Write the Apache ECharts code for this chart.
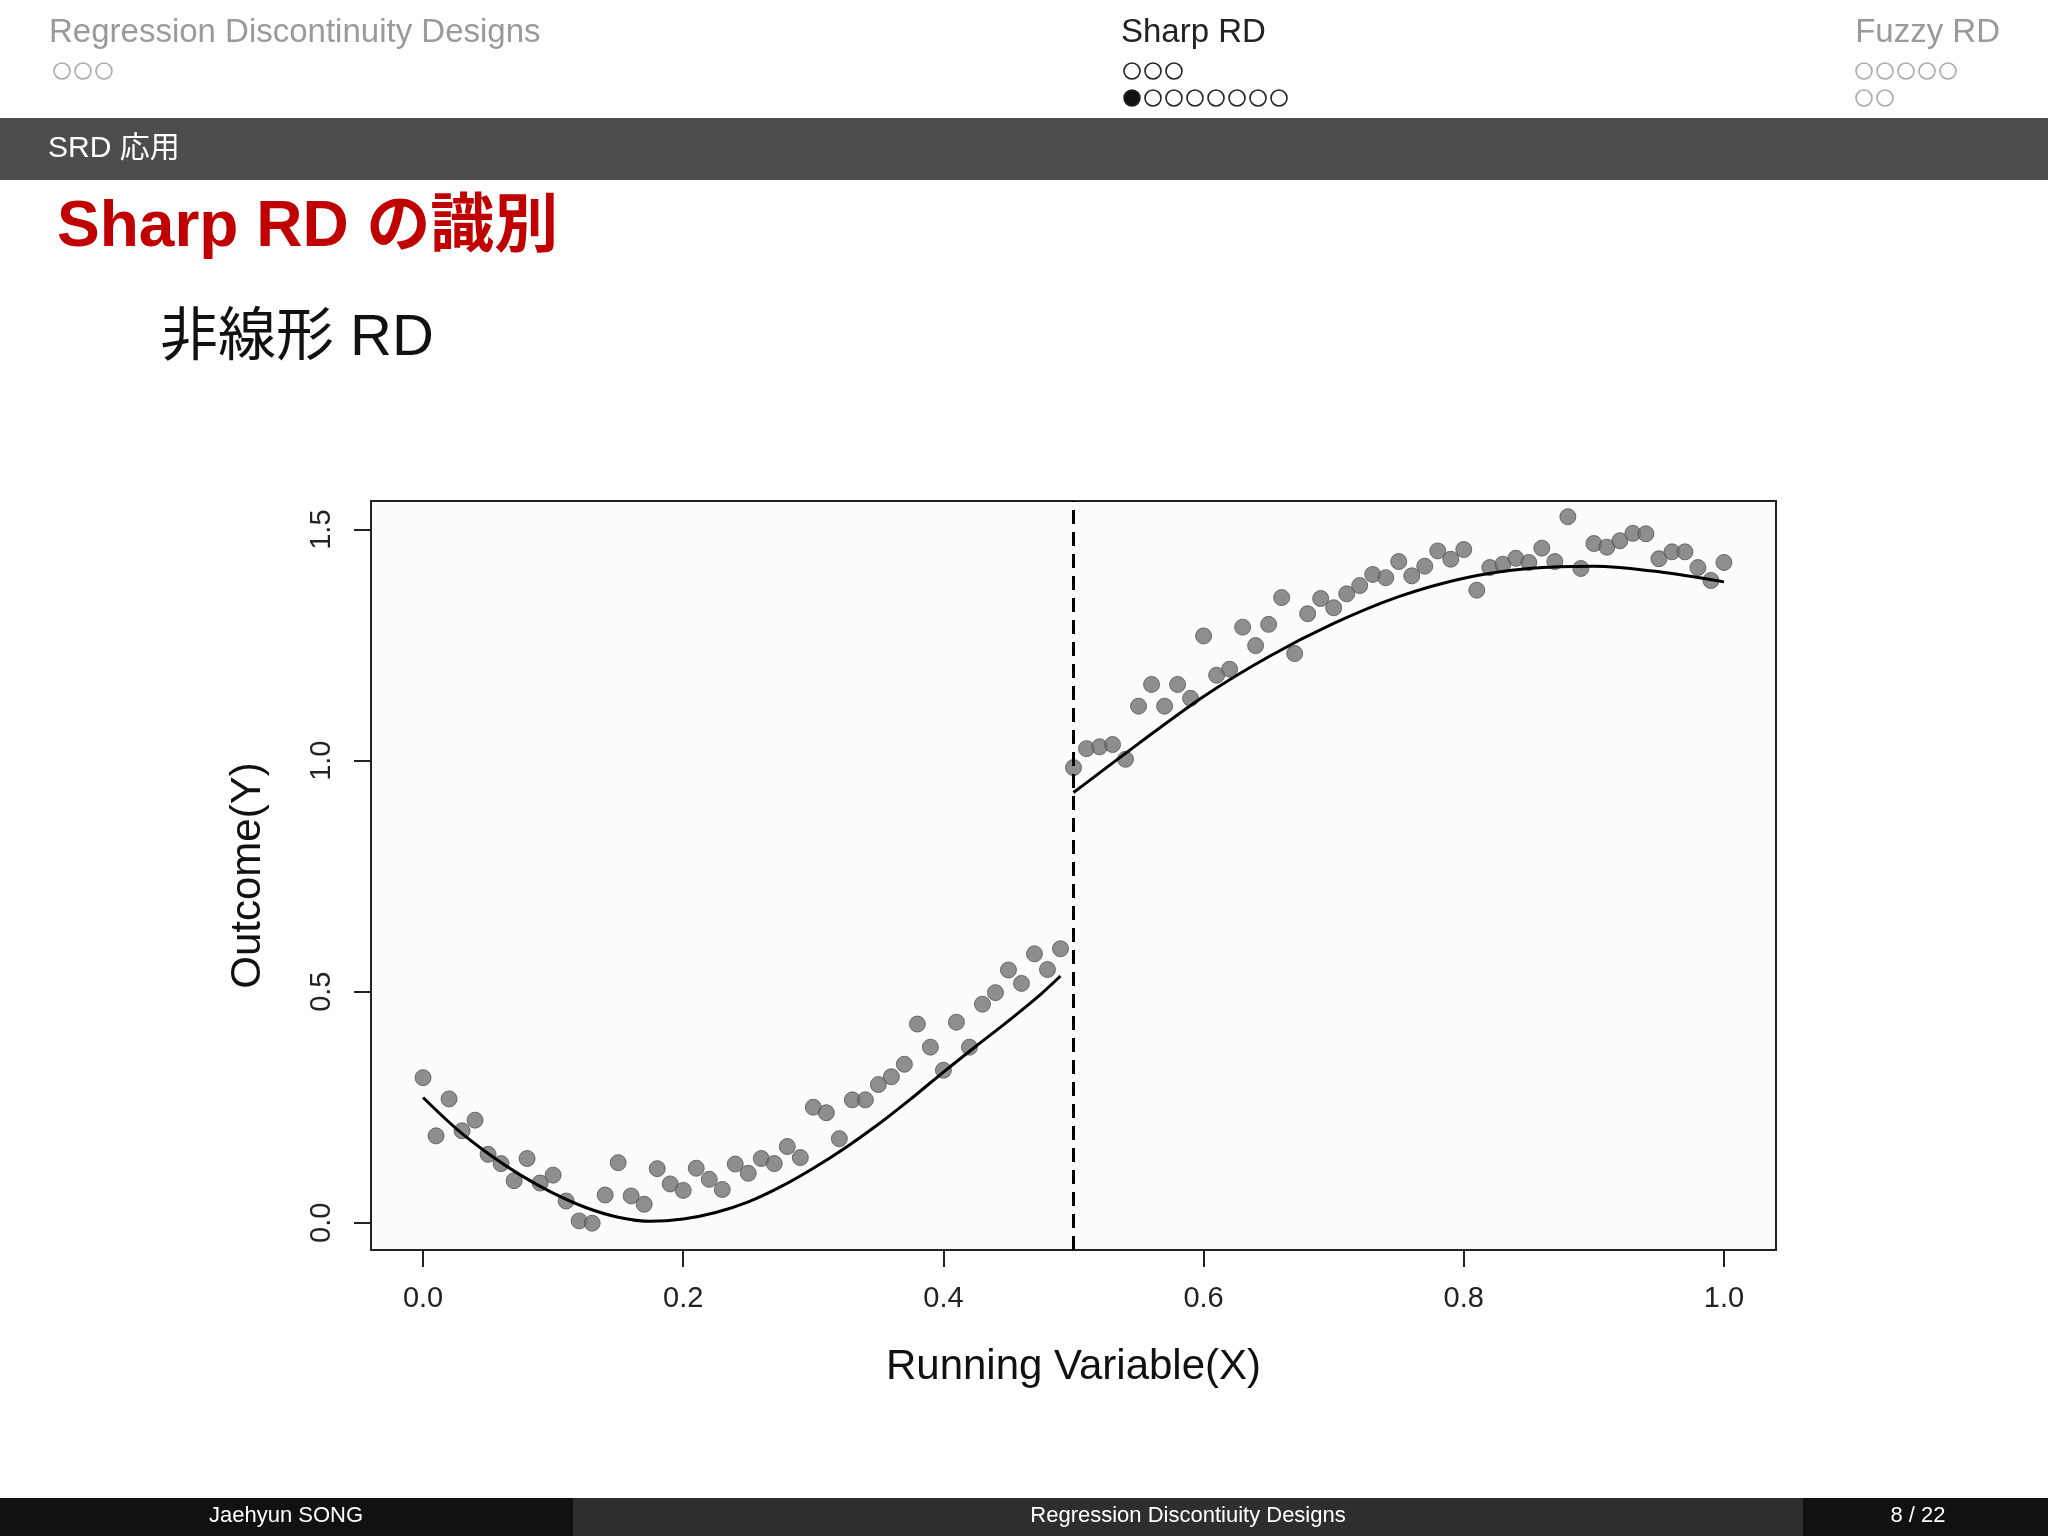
<!DOCTYPE html>
<html lang="ja">
<head>
<meta charset="utf-8">
<script src="https://cdn.jsdelivr.net/npm/echarts@6.0.0/dist/echarts.min.js"></script>
<style>
  html, body { margin: 0; padding: 0; background: #fff; }
  #main { width: 2048px; height: 1536px; }
</style>
</head>
<body>
<div id="main"></div>
<script>
// observed points, x = 0.00 .. 0.49 and 0.50 .. 1.00
var leftX = [0.00,0.01,0.02,0.03,0.04,0.05,0.06,0.07,0.08,0.09,0.10,0.11,0.12,0.13,0.14,0.15,0.16,0.17,0.18,0.19,
             0.20,0.21,0.22,0.23,0.24,0.25,0.26,0.27,0.28,0.29,0.30,0.31,0.32,0.33,0.34,0.35,0.36,0.37,0.38,0.39,
             0.40,0.41,0.42,0.43,0.44,0.45,0.46,0.47,0.48,0.49];
var leftY = [0.314,0.188,0.268,0.199,0.222,0.148,0.128,0.091,0.139,0.086,0.103,0.047,0.004,-0.001,0.060,0.130,0.058,0.040,0.117,0.084,
             0.070,0.118,0.094,0.072,0.127,0.107,0.139,0.128,0.165,0.141,0.250,0.238,0.182,0.266,0.266,0.299,0.316,0.343,0.430,0.380,
             0.330,0.434,0.380,0.473,0.498,0.547,0.518,0.582,0.548,0.593];
var rightX = [0.50,0.51,0.52,0.53,0.54,0.55,0.56,0.57,0.58,0.59,0.60,0.61,0.62,0.63,0.64,0.65,0.66,0.67,0.68,0.69,
              0.70,0.71,0.72,0.73,0.74,0.75,0.76,0.77,0.78,0.79,0.80,0.81,0.82,0.83,0.84,0.85,0.86,0.87,0.88,0.89,
              0.90,0.91,0.92,0.93,0.94,0.95,0.96,0.97,0.98,0.99,1.00];
var rightY = [0.985,1.026,1.030,1.035,1.003,1.118,1.165,1.118,1.165,1.135,1.270,1.185,1.198,1.289,1.249,1.295,1.353,1.232,1.318,1.351,
              1.331,1.361,1.379,1.403,1.396,1.431,1.400,1.421,1.454,1.436,1.457,1.369,1.418,1.425,1.438,1.429,1.460,1.431,1.528,1.416,
              1.470,1.462,1.476,1.492,1.491,1.437,1.452,1.452,1.418,1.390,1.429];

// fitted curves
var fitLeftX = [0,0.025,0.05,0.075,0.1,0.125,0.15,0.175,0.2,0.225,0.25,0.275,0.3,0.325,0.35,0.375,0.4,0.425,0.45,0.475,0.49];
var fitLeftY = [0.271,0.205,0.150,0.103,0.064,0.033,0.012,0.003,0.008,0.022,0.045,0.078,0.118,0.163,0.213,0.268,0.326,0.382,0.437,0.495,0.534];
var fitRightX = [0.5,0.55,0.6,0.65,0.7,0.75,0.8,0.85,0.9,0.95,1.0];
var fitRightY = [0.931,1.037,1.139,1.225,1.297,1.355,1.395,1.416,1.421,1.409,1.387];

var xTicks = [0, 0.2, 0.4, 0.6, 0.8, 1.0];
var yTicks = [0, 0.5, 1.0, 1.5];

function pairs(xs, ys) { return xs.map(function (x, i) { return [x, ys[i]]; }); }

var chart = echarts.init(document.getElementById('main'));
var fam = '"Liberation Sans", "Noto Sans CJK JP", sans-serif';

function txt(x, y, s, size, color, extra) {
    var st = { text: s, x: x, y: y, fontSize: size, fill: color, fontFamily: fam, textVerticalAlign: 'top' };
    for (var k in extra) st[k] = extra[k];
    return { type: 'text', style: st };
}
function dots(x, y, n, filledIdx, stroke) {
    var out = [];
    for (var i = 0; i < n; i++) {
        out.push({ type: 'circle', shape: { cx: x + i * 21, cy: y, r: 8 },
            style: { fill: i === filledIdx ? '#111' : 'none', stroke: stroke, lineWidth: 1.6 } });
    }
    return out;
}

var g = [
    txt(49, 16, 'Regression Discontinuity Designs', 33, '#9a9a9a'),
    txt(1121, 16, 'Sharp RD', 33, '#222'),
    txt(2000, 16, 'Fuzzy RD', 33, '#9a9a9a', { textAlign: 'right' }),
    { type: 'rect', shape: { x: 0, y: 118, width: 2048, height: 62 }, style: { fill: '#4d4d4d' } },
    txt(48, 134, 'SRD 応用', 30, '#fff'),
    txt(57, 196, 'Sharp RD の識別', 64, '#c00000', { fontWeight: 'bold' }),
    txt(160, 310, '非線形 RD', 58, '#111'),
    { type: 'rect', shape: { x: 0, y: 1498, width: 573, height: 38 }, style: { fill: '#111' } },
    { type: 'rect', shape: { x: 573, y: 1498, width: 1230, height: 38 }, style: { fill: '#2e2e2e' } },
    { type: 'rect', shape: { x: 1803, y: 1498, width: 245, height: 38 }, style: { fill: '#111' } },
    txt(286, 1505, 'Jaehyun SONG', 22, '#fff', { textAlign: 'center' }),
    txt(1188, 1505, 'Regression Discontiuity Designs', 22, '#fff', { textAlign: 'center' }),
    txt(1918, 1505, '8 / 22', 22, '#fff', { textAlign: 'center' })
];
g = g.concat(dots(62, 71, 3, -1, '#aaa'), dots(1132, 71, 3, -1, '#222'), dots(1132, 98, 8, 0, '#222'),
             dots(1864, 71, 5, -1, '#aaa'), dots(1864, 98, 2, -1, '#aaa'));

chart.setOption({
    backgroundColor: '#fff',
    animation: false,
    graphic: g,
    grid: { left: 371, right: 272, top: 501, bottom: 286, show: true, backgroundColor: '#fdfcfd', borderColor: '#222', borderWidth: 2 },
    xAxis: {
        type: 'value', min: -0.04, max: 1.04,
        splitLine: { show: false },
        axisLine: { show: false, onZero: false },
        axisTick: { show: true, length: 17, inside: false, lineStyle: { color: '#222', width: 2 }, customValues: xTicks },
        axisLabel: { customValues: xTicks, margin: 34, fontSize: 29, color: '#222', fontFamily: fam,
            formatter: function (v) { return v.toFixed(1); } },
        name: 'Running Variable(X)', nameLocation: 'middle', nameGap: 96,
        nameTextStyle: { fontSize: 42, color: '#111', fontFamily: fam }
    },
    yAxis: {
        type: 'value', min: -0.059, max: 1.562,
        splitLine: { show: false },
        axisLine: { show: false, onZero: false },
        axisTick: { show: true, length: 17, inside: false, lineStyle: { color: '#222', width: 2 }, customValues: yTicks },
        axisLabel: { customValues: yTicks, margin: 34, fontSize: 29, color: '#222', fontFamily: fam, rotate: 90,
            formatter: function (v) { return v.toFixed(1); } },
        name: 'Outcome(Y)', nameLocation: 'middle', nameGap: 102,
        nameTextStyle: { fontSize: 42, color: '#111', fontFamily: fam }
    },
    series: [
        { type: 'scatter', data: pairs(leftX, leftY), symbolSize: 16,
          itemStyle: { color: '#727272', borderColor: '#555', borderWidth: 1 } },
        { type: 'scatter', data: pairs(rightX, rightY), symbolSize: 16,
          itemStyle: { color: '#727272', borderColor: '#555', borderWidth: 1 } },
        { type: 'line', data: pairs(fitLeftX, fitLeftY), smooth: 0.3, showSymbol: false,
          lineStyle: { color: '#000', width: 3 } },
        { type: 'line', data: pairs(fitRightX, fitRightY), smooth: 0.3, showSymbol: false,
          lineStyle: { color: '#000', width: 3 },
          markLine: { symbol: 'none', silent: true, label: { show: false },
              lineStyle: { color: '#000', type: [14, 8], width: 3 },
              data: [{ xAxis: 0.5 }] } }
    ]
});
</script>
</body>
</html>
